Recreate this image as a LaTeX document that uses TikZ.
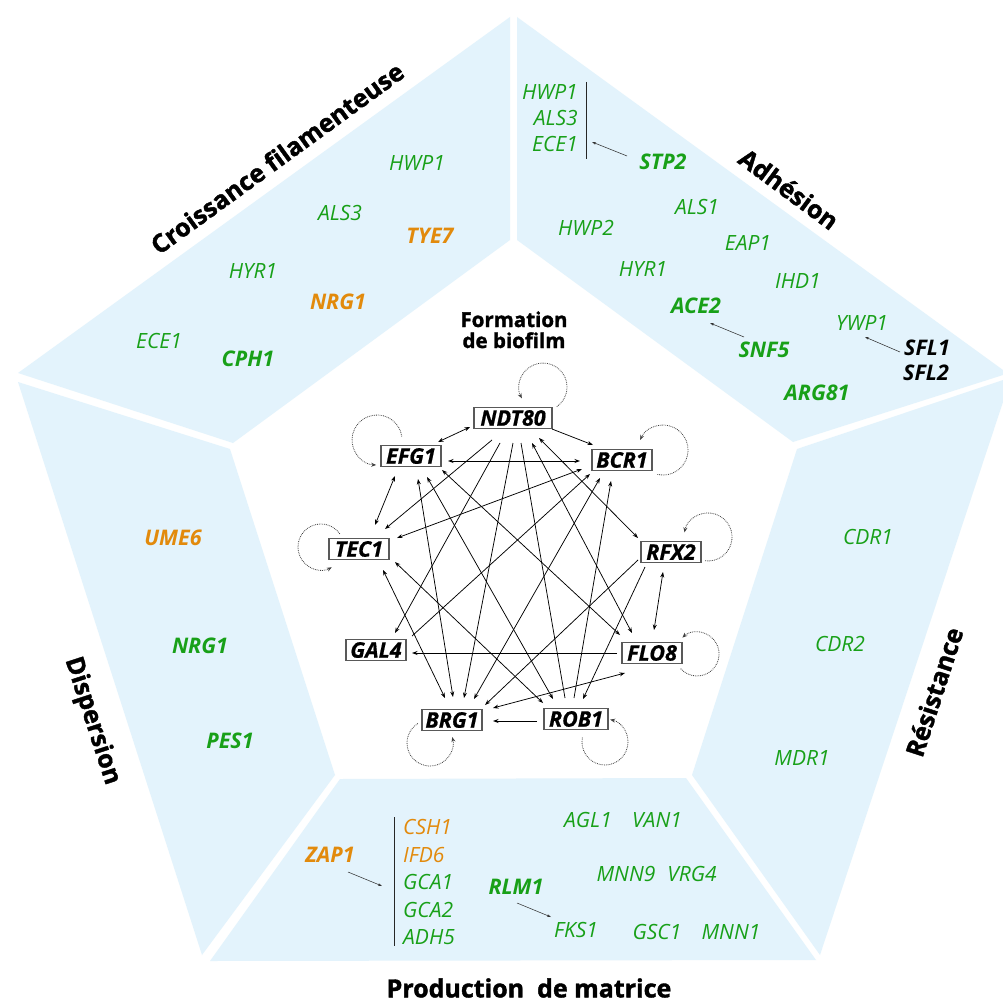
\documentclass[tikz,border=0pt]{standalone}
\usepackage{fontspec}
\setmainfont{Open Sans}
\newfontfamily\heavyA[BoldFeatures={FakeBold=1.6}]{Open Sans}
\newfontfamily\heavyB[BoldItalicFeatures={FakeBold=0.7}]{Open Sans}
\usetikzlibrary{arrows.meta,calc}
\definecolor{pblue}{RGB}{227,243,252}
\definecolor{ggreen}{RGB}{24,160,24}
\definecolor{gorange}{RGB}{226,138,12}
\newcommand\gfont{\fontsize{21}{23}\selectfont\itshape}
\newcommand\gbfont{\fontsize{21.5}{23}\selectfont\bfseries\itshape}
\newcommand\nfont{\heavyB\fontsize{21.5}{22}\selectfont\bfseries\itshape}
\newcommand\tfont{\heavyA\fontsize{25}{27}\selectfont\bfseries}
\newcommand\ffont{\heavyA\fontsize{20.5}{21.5}\selectfont\bfseries}
\begin{document}
\begin{tikzpicture}[x=1pt,y=-1pt,
  gr/.style={font=\gfont, text=ggreen, inner sep=0pt},
  grb/.style={font=\gbfont, text=ggreen, inner sep=0pt},
  orb/.style={font=\gbfont, text=gorange, inner sep=0pt},
  org/.style={font=\gfont, text=gorange, inner sep=0pt},
  blb/.style={font=\gbfont, text=black, inner sep=0pt},
  ttl/.style={font=\tfont, text=black, inner sep=0pt},
  tf/.style={draw=black!65, line width=1.2pt, fill=white, font=\nfont, inner xsep=3pt, inner ysep=1pt, minimum height=21pt, minimum width=60pt},
  ar/.style={line width=0.75pt, -{Stealth[length=5.5pt,width=4pt]}},
  dar/.style={line width=0.75pt, {Stealth[length=5.5pt,width=4pt]}-{Stealth[length=5.5pt,width=4pt]}},
  pl/.style={line width=0.75pt},
  lp/.style={densely dotted, line width=0.8pt, black!75, -{Stealth[length=5pt,width=4pt]}},
  sar/.style={line width=0.55pt, black!80, -{Stealth[length=4pt,width=2.6pt]}},
  barl/.style={line width=0.9pt, black!85}
]
\useasboundingbox (0,0) rectangle (1003,1003);
\fill[white] (0,0) rectangle (1003,1003);
% panels
\fill[pblue] (510,17) -- (18,373) -- (233,443) -- (510,240) -- cycle;
\fill[pblue] (517,17) -- (1003,370) -- (1003,375) -- (793,442) -- (517,240) -- cycle;
\fill[pblue] (18,382) -- (230,449) -- (335,775) -- (202,955) -- cycle;
\fill[pblue] (340,779) -- (686,778) -- (816,960) -- (210,961) -- cycle;
\fill[pblue] (797,449) -- (1003,380) -- (1003,402) -- (820,955) -- (692,775) -- cycle;

% titles
\node[ttl, rotate=36] (t1) at (277,158) {Croissance filamenteuse};
\node[ttl, rotate=-36.5] (t2) at (789,189) {Adhésion};
\node[ttl, rotate=-72] (t3) at (92,721) {Dispersion};
\node[ttl, rotate=72] (t4) at (934,692) {Résistance};
\node[ttl] (t5) at (529,988) {Production\hspace{13pt}de matrice};
\node[font=\ffont, inner sep=0pt, anchor=base] (f1) at (514,327) {Formation};
\node[font=\ffont, inner sep=0pt, anchor=base] (f2) at (514,348) {de biofilm};

% top-left panel
\node[gr] (a1) at (417,163) {HWP1};
\node[gr] (a2) at (340,213) {ALS3};
\node[orb] (a3) at (430,236) {TYE7};
\node[gr] (a4) at (253,271) {HYR1};
\node[orb] (a5) at (338,302) {NRG1};
\node[gr] (a6) at (159,341) {ECE1};
\node[grb] (a7) at (248,359) {CPH1};

% top-right panel
\node[gr, anchor=east] (b1) at (578,92) {HWP1};
\node[gr, anchor=east] (b2) at (578,118) {ALS3};
\node[gr, anchor=east] (b3) at (578,144) {ECE1};
\coordinate (bar1t) at (586,82);
\coordinate (bar1b) at (586,159);
\draw[barl, line width=0.6pt] (bar1t) -- (bar1b);
\node[grb] (stp2) at (663,162) {STP2};
\draw[sar] ($(stp2)+(-36,-6)$) -- ($(bar1b)+(6,-17)$);
\node[gr] (b5) at (697,207) {ALS1};
\node[gr] (b6) at (586,228) {HWP2};
\node[gr] (b7) at (748,243) {EAP1};
\node[gr] (b8) at (643,269) {HYR1};
\node[gr] (b9) at (798,281) {IHD1};
\node[grb] (ace2) at (696,306) {ACE2};
\node[gr] (ywp1) at (862,323) {YWP1};
\node[grb] (snf5) at (764,350) {SNF5};
\draw[sar] ($(snf5)+(-20,-13)$) -- ($(ace2)+(14,17)$);
\node[blb] (sfl1) at (927,348) {SFL1};
\node[blb] (sfl2) at (926,373) {SFL2};
\draw[sar] ($(sfl1)+(-27,4)$) -- ($(ywp1)+(3,14)$);
\node[grb] (arg81) at (817,393) {ARG81};

% left panel
\node[orb] (c1) at (173,538) {UME6};
\node[grb] (c2) at (200,646) {NRG1};
\node[grb] (c3) at (230,741) {PES1};

% right panel
\node[gr] (d1) at (868,537) {CDR1};
\node[gr] (d2) at (840,644) {CDR2};
\node[gr] (d3) at (802,758) {MDR1};

% bottom panel
\node[orb] (zap1) at (330,855) {ZAP1};
\coordinate (bar2t) at (394,817);
\coordinate (bar2b) at (394,946);
\draw[barl] (bar2t) -- (bar2b);
\draw[sar] ($(zap1)+(18,17)$) -- ($(bar2b)+(-12,-60)$);
\node[org, anchor=west] (e1) at (403,827) {CSH1};
\node[org, anchor=west] (e2) at (403,854.5) {IFD6};
\node[gr, anchor=west] (e3) at (403,882) {GCA1};
\node[gr, anchor=west] (e4) at (403,909.5) {GCA2};
\node[gr, anchor=west] (e5) at (403,937) {ADH5};
\node[grb] (rlm1) at (516,887) {RLM1};
\node[gr] (agl1) at (588,820) {AGL1};
\node[gr] (van1) at (657,820) {VAN1};
\node[gr] (mnn9) at (626,874) {MNN9};
\node[gr] (vrg4) at (692,874) {VRG4};
\node[gr] (fks1) at (576,930) {FKS1};
\node[gr] (gsc1) at (657,932) {GSC1};
\node[gr] (mnn1) at (731,932) {MNN1};
\draw[sar] ($(rlm1)+(1,16)$) -- ($(fks1)+(-25,-13)$);

% network nodes
\node[tf, minimum width=78pt] (ndt) at (513,418) {NDT80};
\node[tf] (efg) at (411,456) {EFG1};
\node[tf] (bcr) at (622,460) {BCR1};
\node[tf] (tec) at (359,549) {TEC1};
\node[tf] (rfx) at (671,552) {RFX2};
\node[tf] (gal) at (376,650) {GAL4};
\node[tf] (flo) at (652,653) {FLO8};
\node[tf] (brg) at (452,720) {BRG1};
\node[tf, minimum width=64pt] (rob) at (576,719) {ROB1};

% edges
\draw[dar] ($(ndt)+(-43,9)$) -- ($(efg)+(27,-14)$);
\draw[ar] ($(ndt)+(39,11)$) -- ($(bcr)+(-29,-15)$);
\draw[dar] ($(efg)+(37,5)$) -- ($(bcr)+(-42,1)$);
\draw[dar] ($(efg)+(-16,20)$) -- ($(tec)+(16,-24)$);
\draw[ar] ($(ndt)+(-21,22)$) -- ($(tec)+(26,-20)$);
\draw[dar] ($(tec)+(38,-11)$) -- ($(bcr)+(-40,9)$);
\draw[ar] ($(gal)+(36,-14)$) -- ($(bcr)+(-32,14)$);
\draw[dar] ($(brg)+(22,-21)$) -- ($(bcr)+(-22,18)$);
\draw[ar] ($(rob)+(-2,-21)$) -- ($(bcr)+(-11,21)$);
\draw[ar] ($(ndt)+(-13,25)$) -- ($(gal)+(19,-17)$);
\draw[ar] ($(ndt)+(0,25)$) -- ($(brg)+(12,-22)$);
\draw[pl] ($(ndt)+(8,25)$) -- ($(rob)+(-11,-21)$);
\draw[dar] ($(ndt)+(19,25)$) -- ($(flo)+(-20,-20)$);
\draw[dar] ($(ndt)+(26,20)$) -- ($(rfx)+(-33,-14)$);
\draw[dar] ($(efg)+(31,14)$) -- ($(flo)+(-32,-18)$);
\draw[dar] ($(efg)+(7,23)$) -- ($(brg)+(1,-23)$);
\draw[dar] ($(efg)+(16,21)$) -- ($(rob)+(-23,-20)$);
\draw[dar] ($(tec)+(24,21)$) -- ($(brg)+(-7,-22)$);
\draw[dar] ($(tec)+(36,13)$) -- ($(rob)+(-33,-16)$);
\draw[ar] ($(rfx)+(-33,8)$) -- ($(brg)+(33,-15)$);
\draw[ar] ($(rfx)+(-26,15)$) -- ($(rob)+(7,-20)$);
\draw[dar] ($(rfx)+(-8,20)$) -- ($(flo)+(2,-23)$);
\draw[ar] ($(flo)+(-35,0)$) -- ($(gal)+(36,3)$);
\draw[dar] ($(flo)+(-27,20)$) -- ($(brg)+(41,-12)$);
\draw[ar] ($(rob)+(-39,2)$) -- ($(brg)+(41,1)$);

% self loops
\draw[lp] ($(ndt)+(43.8,-11.3)$) arc[start angle=55, end angle=-208, radius=24];
\draw[lp] ($(efg)+(-9.2,-19.5)$) arc[start angle=-8, end angle=-268, radius=25];
\draw[lp] ($(bcr)+(35.4,14.4)$) arc[start angle=103, end angle=-156, radius=25];
\draw[lp] ($(tec)+(-19.2,-15.2)$) arc[start angle=-35, end angle=-298, radius=23];
\draw[lp] ($(rfx)+(34.1,8.8)$) arc[start angle=97, end angle=-169, radius=24];
\draw[lp] ($(flo)+(28.7,15.7)$) arc[start angle=138, end angle=-132, radius=22];
\draw[lp] ($(brg)+(-34.2,3.5)$) arc[start angle=238, end angle=-15, radius=23];
\draw[lp] ($(rob)+(6.4,18.6)$) arc[start angle=191, end angle=-77, radius=23];
\end{tikzpicture}
\end{document}
